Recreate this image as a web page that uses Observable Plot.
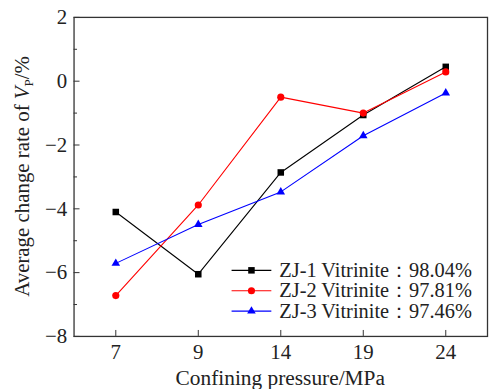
<!DOCTYPE html>
<html>
<head>
<meta charset="utf-8">
<script src="https://cdn.jsdelivr.net/npm/d3@7"></script>
<script src="https://cdn.jsdelivr.net/npm/@observablehq/plot@0.6"></script>
<style>
  html, body { margin: 0; padding: 0; background: #fff; overflow: hidden; }
  #wrap { width: 489px; height: 391px; overflow: hidden; }
  #wrap svg, #wrap svg text { font-family: "Liberation Serif", serif !important; font-variant: normal !important; }
</style>
</head>
<body>
<div id="wrap"></div>
<script>
const pressures = ["7", "9", "14", "19", "24"];
const seriesNames = ["ZJ-1 Vitrinite", "ZJ-2 Vitrinite", "ZJ-3 Vitrinite"];
const seriesPct = ["98.04%", "97.81%", "97.46%"];
const zj1 = [-4.1, -6.05, -2.86, -1.06, 0.45];
const zj2 = [-6.72, -3.88, -0.5, -1.0, 0.29];
const zj3 = [-5.71, -4.49, -3.47, -1.71, -0.37];
const colors = ["#000000", "#ff0000", "#0000ff"];
const symbols = ["square", "circle", "triangle"];
const majorTicks = [-8, -6, -4, -2, 0, 2];
const minorTicks = [-7, -5, -3, -1, 1];

const values = [zj1, zj2, zj3];
const data = [];
values.forEach((arr, s) => arr.forEach((v, i) => data.push({series: seriesNames[s], p: pressures[i], v})));

const dotR = {"square": 3.7, "circle": 3.6, "triangle": 3.2};

const chart = Plot.plot({
  width: 492,
  height: 391,
  marginLeft: 74,
  marginRight: 2,
  marginTop: 17,
  marginBottom: 53,
  style: {fontSize: "21px", color: "#222", background: "#fff"},
  x: {type: "point", domain: pressures, padding: 0.5},
  y: {domain: [-8, 2]},
  marks: [
    Plot.frame({stroke: "#333", strokeWidth: 1.3}),
    Plot.axisY({ticks: majorTicks, tickSize: -6, tickPadding: 13, fontSize: 21, label: null, stroke: "#333"}),
    Plot.axisY({ticks: minorTicks, tickSize: -3.5, tickFormat: () => "", label: null, stroke: "#333"}),
    Plot.axisX({tickSize: -6, tickPadding: 14, fontSize: 21, label: null, stroke: "#333"}),
    ...seriesNames.map((name, s) =>
      Plot.line(data.filter(d => d.series === name), {x: "p", y: "v", stroke: colors[s], strokeWidth: 1.1})
    ),
    ...seriesNames.map((name, s) =>
      Plot.dot(data.filter(d => d.series === name), {x: "p", y: "v", fill: colors[s], stroke: "none", symbol: symbols[s], r: dotR[symbols[s]]})
    )
  ]
});

document.getElementById("wrap").appendChild(chart);

const svg = d3.select(chart);
const font = '"Liberation Serif", serif';

// y label
const yl = svg.append("text")
  .attr("transform", "translate(29,177.5) rotate(-90)")
  .attr("text-anchor", "middle")
  .attr("font-family", font)
  .attr("font-size", 21)
  .attr("fill", "#222");
yl.append("tspan").text("Average change rate of ");
yl.append("tspan").attr("font-style", "italic").text("V");
yl.append("tspan").attr("font-size", 13).attr("dy", 4).text("P");
yl.append("tspan").attr("dy", -4).text("/%");

// x label
svg.append("text")
  .attr("x", 282).attr("y", 387)
  .attr("text-anchor", "middle")
  .attr("font-family", font)
  .attr("font-size", 21.5)
  .attr("fill", "#222")
  .text("Confining pressure/MPa");

// legend
const symMap = {square: d3.symbolSquare, circle: d3.symbolCircle, triangle: d3.symbolTriangle};
const leg = svg.append("g").attr("transform", "translate(233,272)");
seriesNames.forEach((name, s) => {
  const g = leg.append("g").attr("transform", `translate(0,${s * 20.5})`);
  g.append("line").attr("x1", 0).attr("x2", 40).attr("y1", 0).attr("y2", 0).attr("stroke", colors[s]).attr("stroke-width", 1.1);
  const r = dotR[symbols[s]];
  g.append("path").attr("transform", "translate(20,0)").attr("d", d3.symbol(symMap[symbols[s]], Math.PI * r * r)()).attr("fill", colors[s]);
  g.append("text").attr("x", 48).attr("y", 0).attr("dy", "0.33em")
    .attr("text-anchor", "start")
    .attr("font-family", font).attr("font-size", 20.5).attr("fill", "#222")
    .text(name + "：" + seriesPct[s]);
});
</script>
</body>
</html>
